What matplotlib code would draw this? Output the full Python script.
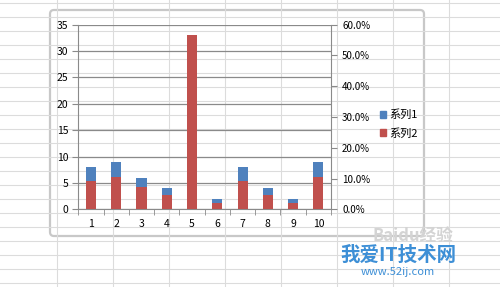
import matplotlib
matplotlib.use("Agg")
import matplotlib.pyplot as plt
import numpy as np
from matplotlib.patches import FancyBboxPatch, Patch

plt.rcParams['font.family'] = ['Noto Sans CJK SC', 'DejaVu Sans']

# values
categories = [1, 2, 3, 4, 5, 6, 7, 8, 9, 10]
series1 = [8, 9, 6, 4, 33, 2, 8, 4, 2, 9]
series2 = [0.091, 0.106, 0.071, 0.045, 0.565, 0.022, 0.091, 0.045, 0.022, 0.106]
series_names = ['系列1', '系列2']
left_ticks = [0, 5, 10, 15, 20, 25, 30, 35]
right_ticks = [0.0, 0.1, 0.2, 0.3, 0.4, 0.5, 0.6]

W, H = 500, 287
fig = plt.figure(figsize=(W / 100, H / 100), dpi=100)

# spreadsheet cells behind the chart
bg = fig.add_axes([0, 0, 1, 1])
bg.set_xlim(0, W)
bg.set_ylim(H, 0)
bg.axis('off')
for y in np.arange(3, H, 14):
    bg.axhline(y, color='#dcdcdc', lw=0.8)
for x in np.arange(57, W, 56):
    bg.axvline(x, color='#dcdcdc', lw=0.8)

# chart frame
frame = FancyBboxPatch((50, 10), 374, 226, boxstyle='round,pad=0,rounding_size=4',
                       fc='white', ec='#c8c8c8', lw=1.6)
bg.add_patch(frame)

# plot area
x0, x1, y0, y1 = 78.3, 331, 24.7, 209.3
ax = fig.add_axes([x0 / W, 1 - y1 / H, (x1 - x0) / W, (y1 - y0) / H])
ax.set_facecolor('none')
x = np.array(categories)
ax.bar(x, series1, width=0.4, color='#4F81BD', zorder=2)
ax.set_xlim(0.5, 10.5)
ax.set_ylim(0, 35)
ax.set_yticks(left_ticks)
ax.yaxis.grid(True, color='#8a8a8a', lw=0.9)
ax.set_axisbelow(True)
ax.set_xticks(categories)
ax.set_xticks(np.arange(0.5, 11, 1), minor=True)
ax.tick_params(axis='x', which='major', length=0, pad=7, labelsize=7.5)
ax.tick_params(axis='x', which='minor', length=4, color='#8a8a8a', direction='out')
ax.tick_params(axis='y', length=4, color='#8a8a8a', labelsize=7.5, pad=3)
for s in ['top', 'right']:
    ax.spines[s].set_visible(False)
for s in ['left', 'bottom']:
    ax.spines[s].set_color('#8a8a8a')

ax2 = ax.twinx()
ax2.bar(x, series2, width=0.4, color='#C0504D', zorder=3)
ax2.set_ylim(0, 0.6)
ax2.set_yticks(right_ticks)
ax2.set_yticklabels([f'{t * 100:.1f}%' for t in right_ticks])
ax2.tick_params(axis='y', length=4, color='#8a8a8a', labelsize=7, pad=4)
for s in ['top', 'left', 'bottom']:
    ax2.spines[s].set_visible(False)
ax2.spines['right'].set_color('#8a8a8a')

handles = [Patch(color='#4F81BD'), Patch(color='#C0504D')]
fig.legend(handles, series_names, loc='center left', bbox_to_anchor=(374 / W, 1 - 124 / H),
           frameon=False, fontsize=8, handlelength=0.6, handleheight=0.6,
           handletextpad=0.3, labelspacing=0.7, borderpad=0)

# watermark
bg.text(413, 236, 'Baidu经验', color='#d4d4d4', fontsize=12, ha='center', va='center',
        fontweight='bold', zorder=5)
bg.text(398, 255, '我爱IT技术网', color='#3d8fd6', fontsize=14, ha='center', va='center',
        fontweight='bold', zorder=6)
bg.text(398, 272, 'www.52ij.com', color='#3d8fd6', fontsize=8, ha='center', va='center',
        zorder=6)

fig.savefig('out.png', dpi=100)
